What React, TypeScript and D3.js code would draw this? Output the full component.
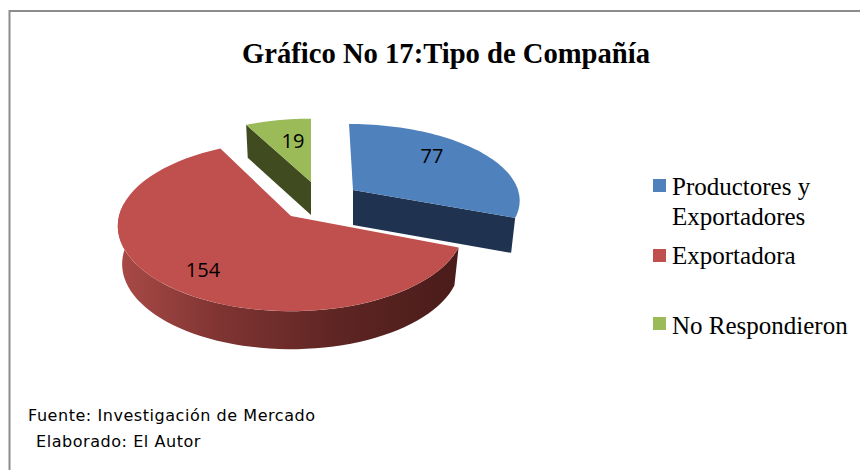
import React from "react";
import * as d3 from "d3";

const categories = ["Productores y|Exportadores", "Exportadora", "No Respondieron"];
const values = [77, 154, 19];
const titleText = "Gráfico No 17:Tipo de Compañía";
const footerLines = ["Fuente: Investigación de Mercado", "Elaborado: El Autor"];

const W = 860, H = 470;
const topColors = ["#4f81bd", "#c0504d", "#9bbb59"];
const cutColors = ["#1f3350", "#6e2a28", "#404c20"];
const persp = 0.12;
const bottomShrink = 0.975;
const slices = [
  { ax: 353, ay: 190, rx: 165, ry: 75, depth: 35, skew: 4, labelX: 432, labelY: 163 },
  { ax: 291, ay: 216, rx: 172, ry: 85, depth: 38, skew: 0, labelX: 203, labelY: 277 },
  { ax: 311, ay: 182, rx: 158, ry: 72, depth: 33, skew: 0, labelX: 293, labelY: 148 },
];

const pieGen = d3.pie<number>().sort(null).startAngle(0).endAngle(2 * Math.PI);
const arcs = pieGen(values);
const line = d3.line<[number, number]>();

function pt(s: typeof slices[number], a: number, dy = 0): [number, number] {
  const u = Math.sin(a), v = -Math.cos(a), k = 1 + persp * v;
  const dx = s.rx * u * k + s.skew * v;
  return [s.ax + (dy ? dx * bottomShrink : dx), s.ay + s.ry * v * k + dy];
}
function samples(a0: number, a1: number) {
  return d3.range(0, 61).map((i) => a0 + ((a1 - a0) * i) / 60);
}
function topPath(i: number) {
  const s = slices[i], a = arcs[i];
  return line([[s.ax, s.ay], ...samples(a.startAngle, a.endAngle).map((t) => pt(s, t))]) + "Z";
}
function rimPath(i: number) {
  const s = slices[i], a = arcs[i];
  const a0 = Math.max(a.startAngle, Math.PI * 0.45);
  const a1 = Math.min(a.endAngle, Math.PI * 1.55);
  if (a0 >= a1) return "";
  const ts = samples(a0, a1);
  return line([...ts.map((t) => pt(s, t)), ...ts.slice().reverse().map((t) => pt(s, t, s.depth))]) + "Z";
}
function cutPath(i: number, angle: number) {
  const s = slices[i];
  const e = pt(s, angle);
  const e2 = pt(s, angle, s.depth);
  return line([[s.ax, s.ay], e, e2, [s.ax, s.ay + s.depth]]) + "Z";
}

export default function App() {
  const order = [2, 0, 1];
  const legendBase = [195, 264, 334];
  const legendSwatch = [179, 249, 317];
  return (
    <svg width={W} height={H} style={{ position: "absolute", left: 0, top: 0, background: "#fff" }}>
      <defs>
        <linearGradient id="redRim" gradientUnits="userSpaceOnUse" x1={118} x2={457} y1={0} y2={0}>
          <stop offset="0" stopColor="#a94a47" />
          <stop offset="0.3" stopColor="#7f3432" />
          <stop offset="0.65" stopColor="#5e2523" />
          <stop offset="1" stopColor="#4a1c1a" />
        </linearGradient>
      </defs>
      <rect x={9.5} y={11} width={860} height={480} fill="#fff" stroke="#8c8c8c" strokeWidth={2} />
      <text x={446} y={63} textAnchor="middle" fontFamily="'Liberation Serif'" fontWeight="bold" fontSize={30} textLength={408} lengthAdjust="spacingAndGlyphs" fill="#000">
        {titleText}
      </text>
      {order.map((i) => (
        <g key={i}>
          {i === 2 && <path d={cutPath(2, arcs[2].startAngle)} fill={cutColors[2]} />}
          {i === 0 && <path d={cutPath(0, arcs[0].endAngle)} fill={cutColors[0]} />}
          {i === 1 && <path d={rimPath(1)} fill="url(#redRim)" />}
          <path d={topPath(i)} fill={topColors[i]} />
        </g>
      ))}
      {values.map((v, i) => (
        <text key={i} x={slices[i].labelX} y={slices[i].labelY} textAnchor="middle" fontFamily="'Open Sans'" fontSize={20} fill="#000">
          {v}
        </text>
      ))}
      {categories.map((c, i) => (
        <g key={c}>
          <rect x={653} y={legendSwatch[i]} width={13} height={13} fill={topColors[i]} />
          {c.split("|").map((t, j) => (
            <text key={t} x={672} y={legendBase[i] + j * 30} fontFamily="'Liberation Serif'" fontSize={25} fill="#000">
              {t}
            </text>
          ))}
        </g>
      ))}
      {footerLines.map((t, i) => (
        <text key={t} x={i === 0 ? 28 : 36} y={i === 0 ? 421 : 447} fontFamily="'DejaVu Sans'" fontSize={16} letterSpacing={0.55} fill="#000">
          {t}
        </text>
      ))}
    </svg>
  );
}
